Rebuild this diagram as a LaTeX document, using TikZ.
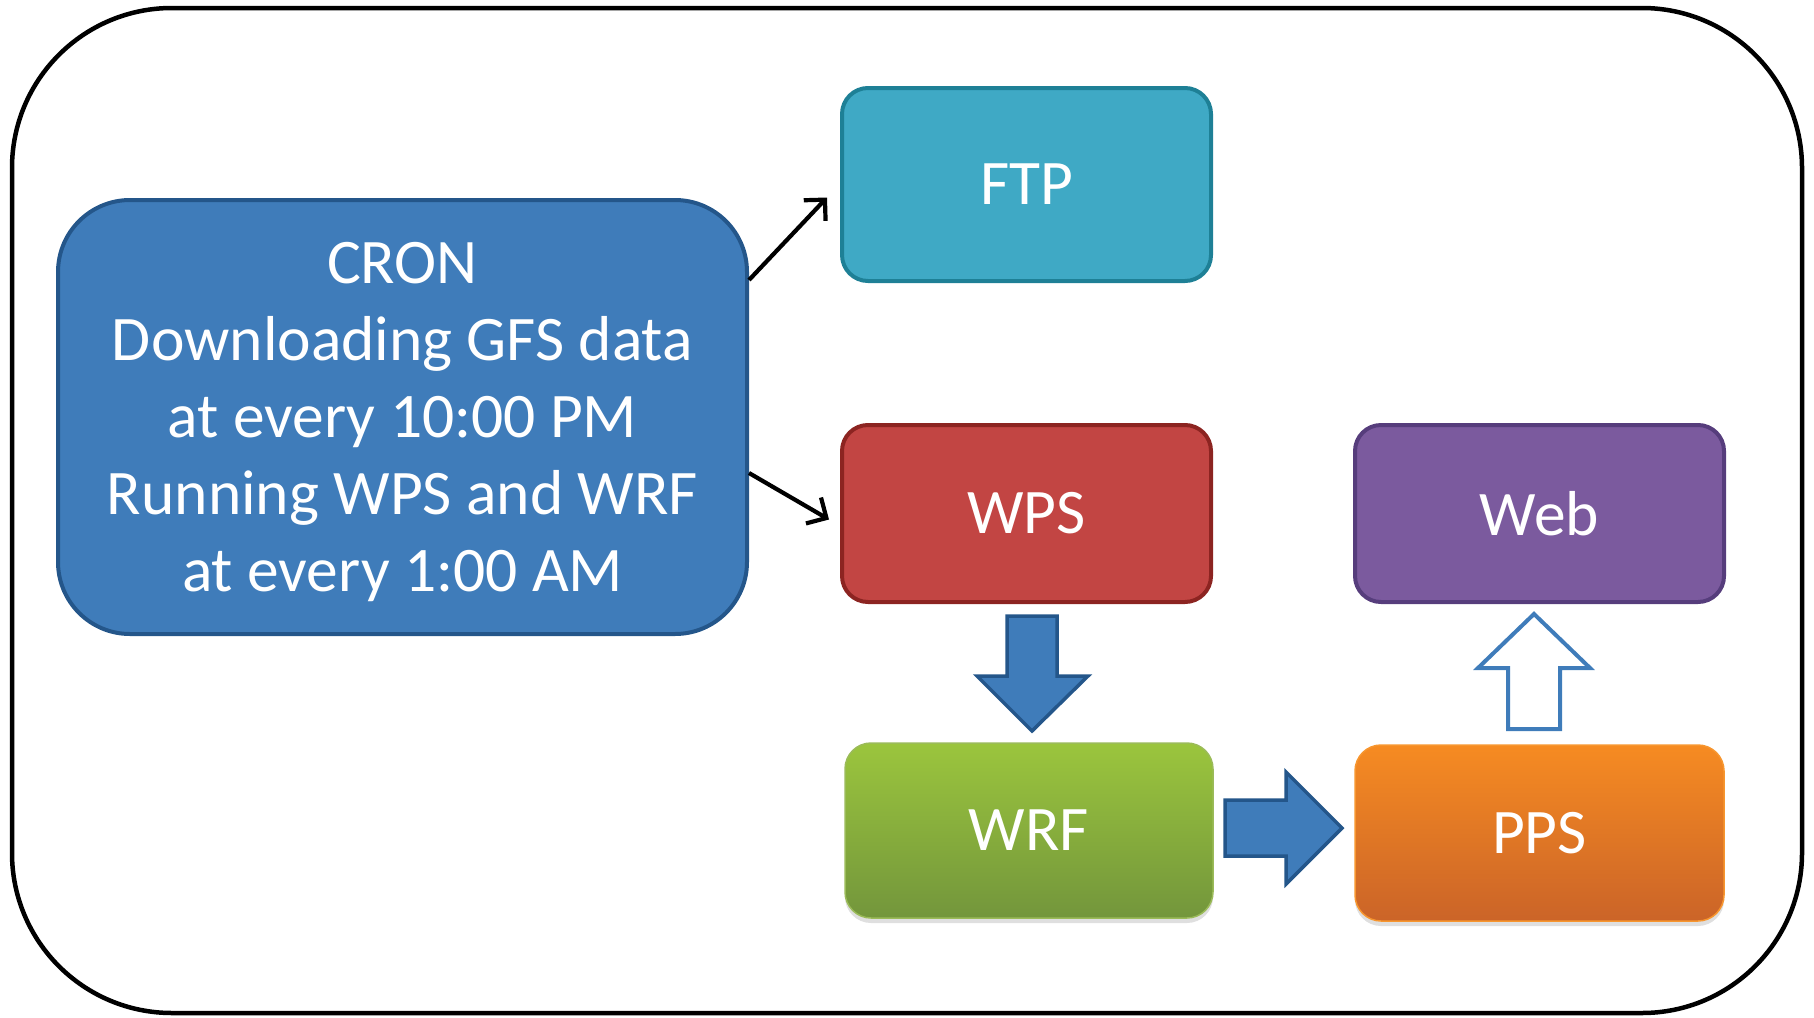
\documentclass[tikz,border=0pt]{standalone}
\usepackage{fontspec}
\setmainfont{Carlito}
\usetikzlibrary{arrows.meta,shadows,calc}
\definecolor{cronfill}{HTML}{3F7CBA}
\definecolor{crondraw}{HTML}{24568A}
\definecolor{ftpfill}{HTML}{3FA9C5}
\definecolor{ftpdraw}{HTML}{1E8096}
\definecolor{wpsfill}{HTML}{C24543}
\definecolor{wpsdraw}{HTML}{8C2421}
\definecolor{webfill}{HTML}{7B5A9E}
\definecolor{webdraw}{HTML}{563D7C}
\definecolor{wrftop}{HTML}{9BC53D}
\definecolor{wrfbot}{HTML}{73963C}
\definecolor{wrfdraw}{HTML}{9BBB59}
\definecolor{ppstop}{HTML}{F68B22}
\definecolor{ppsbot}{HTML}{CB6428}
\definecolor{ppsdraw}{HTML}{F7962F}
\tikzset{
  txt/.style={text=white,font=\fontsize{63.5}{77}\selectfont,align=center},
  box/.style={txt,rounded corners=26pt,line width=4pt,inner sep=0pt},
  gbox/.style={txt,rounded corners=26pt,line width=1.5pt,inner sep=0pt,
    drop shadow={opacity=0.25,shadow xshift=0pt,shadow yshift=-5pt}},
  thinarrow/.style={draw=black,line width=4.2pt,-{Straight Barb[length=15pt,width=30pt,line width=4.2pt]}},
  blockarrow/.style={fill=cronfill,draw=crondraw,line width=3.5pt,line join=miter},
  openarrow/.style={fill=white,draw=cronfill,line width=4pt,line join=miter}
}
\begin{document}
\begin{tikzpicture}[x=1pt,y=-1pt]
\useasboundingbox (0,0) rectangle (1814,1017);
\draw[line width=4.5pt,rounded corners=160pt] (12,8) rectangle (1802,1013);
\node[box,rounded corners=72pt,fill=cronfill,draw=crondraw,minimum width=689pt,minimum height=434pt] (cron) at (402.5,417) {};
\node[txt] (crontext) at ([yshift=-5pt]cron.center)
  {CRON\\Downloading GFS data\\at every 10:00 PM\\Running WPS and WRF\\at every 1:00 AM};
\node[box,fill=ftpfill,draw=ftpdraw,minimum width=369pt,minimum height=193pt] (ftp) at (1026.5,184.5) {FTP};
\node[box,fill=wpsfill,draw=wpsdraw,minimum width=369pt,minimum height=177pt] (wps) at (1026.5,513.5) {WPS};
\node[box,fill=webfill,draw=webdraw,minimum width=369pt,minimum height=177pt] (web) at (1539.5,513.5) {Web};
\node[gbox,top color=wrftop,bottom color=wrfbot,draw=wrfdraw,minimum width=368pt,minimum height=175pt] (wrf) at (1029,830.5) {WRF};
\node[gbox,top color=ppstop,bottom color=ppsbot,draw=ppsdraw,minimum width=369pt,minimum height=176pt] (pps) at (1539.5,833) {PPS};
\draw[thinarrow] ([yshift=137pt]cron.east) -- ([xshift=-13pt,yshift=-13pt]ftp.west);
\draw[thinarrow] ([yshift=-56pt]cron.east) -- ([xshift=-11pt,yshift=-6pt]wps.west);
\draw[blockarrow] (1007,616) -- (1057,616) -- (1057,676) -- (1088,676) -- (1032,731) -- (977,676) -- (1007,676) -- cycle;
\draw[blockarrow] (1225,800) -- (1286,800) -- (1286,772) -- (1342,828) -- (1286,884) -- (1286,856) -- (1225,856) -- cycle;
\draw[openarrow] (1508,729) -- (1508,668) -- (1478,668) -- (1534,614) -- (1590,668) -- (1560,668) -- (1560,729) -- cycle;
\end{tikzpicture}
\end{document}
